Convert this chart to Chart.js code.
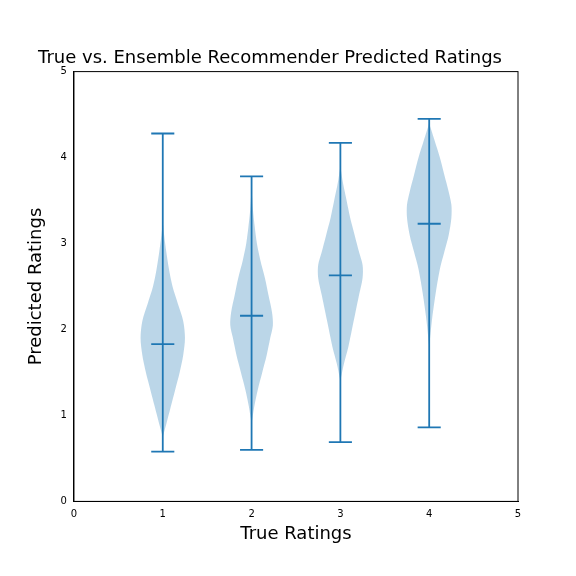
<!DOCTYPE html>
<html>
<head>
<script src="https://cdn.jsdelivr.net/npm/chart.js@4"></script>
<style>
  body { margin: 0; background: #fff; }
  #wrap { width: 576px; height: 576px; }
</style>
</head>
<body>
<div id="wrap"><canvas id="chart"></canvas></div>
<script>
const positions = [1, 2, 3, 4];
const mins = [0.58, 0.60, 0.69, 0.86];
const maxs = [4.28, 3.78, 4.17, 4.45];
const means = [1.83, 2.16, 2.63, 3.23];

// violin profiles: rating levels and half widths (in x units)
const levels1 = [0.75, 0.9, 1.1, 1.3, 1.5, 1.7, 1.9, 2.1, 2.3, 2.5, 2.7, 2.9, 3.1, 3.25];
const widths1 = [0, 0.04, 0.09, 0.14, 0.19, 0.23, 0.25, 0.23, 0.17, 0.11, 0.07, 0.04, 0.015, 0];
const levels2 = [0.9, 1.1, 1.3, 1.5, 1.7, 1.9, 2.05, 2.2, 2.4, 2.6, 2.8, 3.0, 3.2, 3.4, 3.65];
const widths2 = [0, 0.03, 0.07, 0.12, 0.17, 0.21, 0.24, 0.23, 0.19, 0.15, 0.1, 0.06, 0.035, 0.015, 0];
const levels3 = [1.4, 1.6, 1.8, 2.0, 2.2, 2.4, 2.6, 2.75, 2.9, 3.1, 3.3, 3.5, 3.7, 3.9];
const widths3 = [0, 0.04, 0.09, 0.13, 0.17, 0.21, 0.25, 0.25, 0.21, 0.16, 0.11, 0.07, 0.03, 0];
const levels4 = [1.8, 2.1, 2.4, 2.7, 2.9, 3.1, 3.3, 3.45, 3.6, 3.8, 4.0, 4.2, 4.4];
const widths4 = [0, 0.03, 0.07, 0.12, 0.17, 0.22, 0.25, 0.25, 0.22, 0.17, 0.12, 0.06, 0];
const profiles = [[levels1, widths1], [levels2, widths2], [levels3, widths3], [levels4, widths4]];

const blue = '#1f77b4';
const fillBlue = 'rgba(31,119,180,0.3)';
const capHalf = 0.13;

const datasets = [];

profiles.forEach(([lv, wd], i) => {
  const x = positions[i];
  const pts = lv.map((y, k) => ({ x: x + wd[k], y }));
  const back = lv.slice().reverse().map((y, k) => ({ x: x - wd[lv.length - 1 - k], y }));
  datasets.push({
    data: pts.concat(back),
    showLine: true, fill: 'shape', backgroundColor: fillBlue,
    borderColor: 'rgba(0,0,0,0)', borderWidth: 0, pointRadius: 0, tension: 0.3
  });
});

positions.forEach((x, i) => {
  const segs = [
    [{ x, y: mins[i] }, { x, y: maxs[i] }],
    [{ x: x - capHalf, y: mins[i] }, { x: x + capHalf, y: mins[i] }],
    [{ x: x - capHalf, y: maxs[i] }, { x: x + capHalf, y: maxs[i] }],
    [{ x: x - capHalf, y: means[i] }, { x: x + capHalf, y: means[i] }]
  ];
  segs.forEach(s => datasets.push({
    data: s, showLine: true, fill: false, borderColor: blue,
    borderWidth: 1.8, pointRadius: 0
  }));
});

const frame = {
  id: 'frame',
  afterDraw(chart) {
    const a = chart.chartArea, ctx = chart.ctx;
    ctx.save();
    ctx.strokeStyle = '#000';
    ctx.lineWidth = 1;
    ctx.strokeRect(a.left, a.top, a.right - a.left, a.bottom - a.top);
    ctx.restore();
  }
};

const tickFont = { family: 'DejaVu Sans', size: 10 };
const titleFont = { family: 'DejaVu Sans', size: 18, weight: 'normal' };

new Chart(document.getElementById('chart'), {
  type: 'scatter',
  data: { datasets },
  plugins: [frame],
  options: {
    responsive: true,
    maintainAspectRatio: false,
    animation: false,
    layout: { padding: { left: 22, right: 58, top: 10, bottom: 27 } },
    plugins: {
      legend: { display: false },
      tooltip: { enabled: false },
      title: {
        display: true, text: 'True vs. Ensemble Recommender Predicted Ratings',
        color: '#000', font: titleFont, padding: { top: 38, bottom: 2 }
      }
    },
    scales: {
      x: {
        min: 0, max: 5,
        ticks: { stepSize: 1, color: '#000', font: tickFont },
        grid: { display: false, drawTicks: true, tickLength: 4, tickColor: '#000' },
        border: { color: '#000' },
        title: { display: true, text: 'True Ratings', color: '#000', font: titleFont, padding: { top: 0 } }
      },
      y: {
        min: 0, max: 5,
        ticks: { stepSize: 1, color: '#000', font: tickFont },
        grid: { display: false, drawTicks: true, tickLength: 4, tickColor: '#000' },
        border: { color: '#000' },
        title: { display: true, text: 'Predicted Ratings', color: '#000', font: titleFont, padding: { bottom: 10 } }
      }
    }
  }
});
</script>
</body>
</html>
